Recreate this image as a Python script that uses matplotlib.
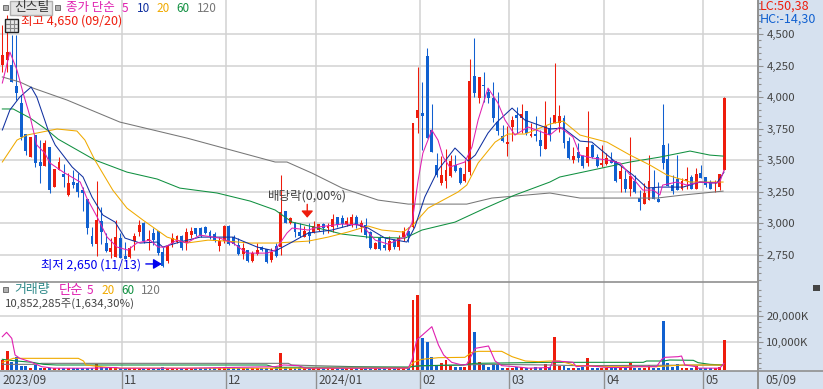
import matplotlib
matplotlib.use("Agg")
import matplotlib.pyplot as plt
from matplotlib.patches import Rectangle
import numpy as np

plt.rcParams['font.family'] = ['Noto Sans CJK KR', 'DejaVu Sans']

W, H = 823, 389

opens = [4254, 4294, 4254, 4087, 3952, 3706, 3523, 3698, 3484, 3452,
         3603, 3285, 3420, 3388, 3222, 3325, 3317, 3261, 3190, 2896,
         2833, 3015, 2841, 2769, 2729, 2880, 2737, 2729, 2856, 2928,
         3000, 2856, 2920, 2936, 2769, 2698, 2841, 2849, 2896, 2841,
         2904, 2960, 2960, 2968, 2928, 2912, 2817, 2856, 2976, 2888,
         2825, 2753, 2785, 2698, 2753, 2809, 2793, 2706, 2820,
         2809, 3095, 3000, 3000, 2928, 2888, 2928, 2928, 2944, 2992,
         2960, 2968, 3048, 3040, 2992, 2992, 3048, 2968, 2984, 2928,
         2793, 2880, 2825, 2785, 2864, 2809, 2888, 2936, 2968, 3833,
         3873, 4325, 3738, 3460, 3317, 3333, 3373, 3460, 3436, 3333,
         3404, 4167, 3992, 4095, 4040, 3992, 3801, 3690, 3626, 3762,
         3857, 3833, 3889, 3690, 3706, 3658, 3587, 3754,
         3793, 3793, 3833, 3650, 3500, 3563, 3531, 3476, 3619, 3523,
         3460, 3468, 3500, 3492, 3349, 3349, 3269, 3333, 3198, 3150,
         3182, 3277, 3190, 3619, 3508, 3301, 3349, 3269, 3333, 3365,
         3269, 3396, 3365, 3317, 3317, 3285, 3420]
highs = [4570, 4650, 4492, 4492, 4016, 3706, 3682, 3698, 3658, 3658,
         3603, 3428, 3523, 3468, 3396, 3420, 3396, 3285, 3190, 2968,
         3333, 3127, 2920, 2880, 3023, 2920, 2849, 2817, 2920, 3023,
         3008, 2944, 2960, 2936, 2809, 2817, 2920, 2904, 2904, 2960,
         2968, 2960, 2968, 2976, 2944, 2928, 2888, 2984, 2984, 2904,
         2880, 2841, 2785, 2777, 2841, 2817, 2793, 2801, 2840,
         3380, 3095, 3048, 3008, 3000, 2976, 3000, 3015, 2992, 3000,
         3000, 3071, 3048, 3063, 3048, 3071, 3063, 3024, 3040, 2936,
         2849, 2896, 2880, 2896, 2872, 2904, 2968, 2968, 3793, 4238,
         4119, 4389, 3944, 3555, 3531, 3587, 3539, 3539, 3444, 3500,
         4302, 4468, 4159, 4198, 4071, 4119, 4040, 3777, 3769, 3849,
         3920, 3944, 3889, 3793, 3849, 3738, 3968, 3841,
         4270, 3936, 3857, 3682, 3603, 3635, 3540, 3889, 3627, 3547,
         3619, 3555, 3563, 3492, 3452, 3420, 3682, 3380, 3261, 3317,
         3539, 3420, 3325, 3944, 3635, 3380, 3539, 3357, 3444, 3380,
         3436, 3460, 3365, 3341, 3341, 3388, 4000]
lows = [4198, 4198, 4119, 3976, 3658, 3539, 3523, 3444, 3317, 3452,
        3238, 3285, 3420, 3285, 3214, 3277, 3206, 3095, 2912, 2817,
        2737, 2833, 2769, 2721, 2729, 2721, 2713, 2721, 2785, 2896,
        2841, 2785, 2825, 2745, 2650, 2682, 2809, 2841, 2785, 2785,
        2880, 2896, 2888, 2912, 2872, 2849, 2777, 2841, 2825, 2825,
        2745, 2713, 2690, 2690, 2745, 2777, 2682, 2690, 2730,
        2745, 3000, 2992, 2888, 2888, 2888, 2841, 2920, 2936, 2912,
        2920, 2928, 2968, 2968, 2976, 2968, 2960, 2928, 2880, 2793,
        2793, 2785, 2785, 2777, 2793, 2785, 2856, 2849, 2960, 3714,
        3579, 3674, 3563, 3364, 3301, 3277, 3364, 3404, 3309, 3325,
        3380, 4000, 3952, 3960, 3952, 3801, 3698, 3642, 3531, 3650,
        3714, 3714, 3698, 3682, 3650, 3531, 3587, 3650,
        3793, 3722, 3595, 3508, 3476, 3484, 3436, 3452, 3515, 3444,
        3444, 3460, 3476, 3325, 3246, 3246, 3214, 3238, 3103, 3150,
        3182, 3190, 3166, 3428, 3293, 3230, 3261, 3261, 3269, 3269,
        3269, 3357, 3285, 3269, 3246, 3261, 3420]
closes = [4333, 4357, 4119, 4032, 3682, 3571, 3682, 3476, 3452, 3635,
          3261, 3428, 3484, 3364, 3317, 3301, 3246, 3238, 2960, 2833,
          3023, 2928, 2777, 2801, 2888, 2721, 2713, 2801, 2896, 2984,
          2856, 2872, 2864, 2761, 2660, 2817, 2880, 2896, 2801, 2928,
          2936, 2912, 2896, 2920, 2888, 2856, 2856, 2976, 2833, 2833,
          2753, 2801, 2698, 2761, 2785, 2785, 2690, 2769, 2740,
          3087, 3000, 3040, 2928, 2896, 2936, 2896, 2976, 2992, 2960,
          2976, 3032, 2984, 2992, 3015, 3048, 2984, 3000, 2904, 2801,
          2841, 2793, 2801, 2856, 2809, 2880, 2936, 2896, 3793, 3896,
          3849, 3674, 3563, 3380, 3380, 3420, 3492, 3412, 3317, 3388,
          4127, 4032, 4159, 4087, 3992, 3833, 3730, 3650, 3642, 3817,
          3833, 3865, 3714, 3706, 3690, 3611, 3770, 3698,
          3857, 3849, 3635, 3515, 3531, 3515, 3452, 3603, 3523, 3452,
          3476, 3515, 3476, 3333, 3412, 3269, 3373, 3246, 3166, 3238,
          3333, 3190, 3166, 3476, 3293, 3253, 3261, 3333, 3349, 3269,
          3388, 3357, 3301, 3269, 3325, 3388, 3990]
volumes = [3200, 6650, 2300, 4470, 1000, 1000, 120, 1270, 250, 100,
           130, 100, 150, 120, 100, 150, 120, 90, 100, 110,
           1650, 400, 300, 250, 500, 300, 150, 200, 100, 120,
           150, 100, 130, 200, 500, 300, 150, 120, 100, 200,
           120, 100, 100, 90, 80, 90, 100, 120, 130, 90,
           120, 100, 150, 100, 90, 90, 120, 100, 300, 5760,
           370, 60, 60, 60, 60, 120, 100, 90, 80, 110,
           100, 90, 70, 90, 80, 60, 100, 130, 90, 80,
           70, 90, 80, 100, 110, 140, 200, 26270, 28190, 11770,
           10250, 4470, 1000, 1900, 3200, 1000, 600, 450, 630, 24720,
           14080, 2540, 1500, 630, 1500, 1500, 120, 120, 120, 370,
           500, 60, 60, 500, 60, 1500, 630,
           12040, 1000, 1000, 120, 120, 120, 630, 3960, 120, 120,
           60, 30, 50, 120, 60, 120, 2150, 250, 250, 30,
           1300, 60, 60, 18200, 2040, 500, 1500, 120, 120, 120,
           1000, 60, 30, 50, 30, 630, 10852]

ma120_x = [0, 3.7, 6.5, 13.7, 24.9, 39.1, 57.8, 60.3, 65.6, 72, 79.6, 86, 98.4,
           103.7, 116, 122.4, 138.7, 144.2, 152.7]
ma120_y = [4159, 4119, 4071, 3976, 3801, 3674, 3484, 3484, 3396, 3277, 3182, 3150,
           3150, 3198, 3238, 3198, 3198, 3222, 3253]
ma60_x = [0, 2.3, 5.9, 9.5, 11.8, 19.6, 26.4, 32.8, 37.6, 45.5, 52.5, 57.8, 61.4,
          66.9, 72, 77.5, 85.3, 88.9, 95.9, 102.3, 108.6, 116, 118.1, 123, 133,
          139.3, 145.7, 149.9, 152.7]
ma60_y = [3905, 3905, 3833, 3738, 3666, 3500, 3404, 3349, 3277, 3238, 3174, 3103,
          3007, 2960, 2912, 2888, 2880, 2944, 3007, 3118, 3222, 3325, 3365, 3404,
          3484, 3523, 3571, 3539, 3531]
ma20_x = [0, 3.1, 5.2, 11.6, 15.8, 17.5, 19.6, 23.4, 26.4, 29.8, 34.9, 39.1, 43.6,
          47.6, 52.5, 57.8, 64.8, 69, 73.2, 77.5, 80.4, 84.9, 87, 90.2, 96.5, 98.4,
          100.8, 104.4, 107.1, 110.7, 116, 118.8, 122.4, 128.1, 133, 137.2, 140.8,
          145.7, 152.7]
ma20_y = [3484, 3658, 3698, 3746, 3730, 3658, 3500, 3261, 3118, 3023, 2888, 2841,
          2864, 2856, 2841, 2841, 2856, 2888, 2928, 2976, 2944, 2928, 2984, 3118,
          3245, 3301, 3476, 3642, 3706, 3706, 3785, 3809, 3698, 3642, 3539, 3460,
          3381, 3325, 3325]
ma10_x = [0, 1.6, 3.7, 6.1, 7.3, 9.7, 11.2, 14.8, 17.1, 19, 21.3, 23.9, 26, 29.2,
          32.8, 34, 37.6, 41.9, 48.9, 54, 57.8, 61.4, 64.8, 69.8, 74.7, 77.5, 81.1,
          85.7, 87.4, 89.5, 92.3, 95.9, 98.7, 100.2, 102.9, 104.8, 108, 110.7, 116,
          118.8, 122.4, 124.9, 129.4, 133.6, 136.6, 139.3, 144.2, 147.8, 151.4, 152.9]
ma10_y = [3738, 3897, 4000, 4079, 4000, 3738, 3619, 3444, 3365, 3206, 3063, 3007,
          2880, 2841, 2849, 2809, 2849, 2888, 2888, 2809, 2777, 2849, 2920, 2944,
          2992, 2960, 2880, 2849, 2968, 3206, 3420, 3595, 3492, 3539, 3714, 3801,
          3912, 3817, 3746, 3754, 3650, 3642, 3500, 3381, 3277, 3285, 3285, 3325,
          3317, 3404]
ma5_x = [0, 1.6, 3.1, 4.4, 5.9, 6.9, 7.3, 9, 10.1, 12.9, 16.5, 17.9, 20.1, 22.2,
         24.3, 26.6, 28.5, 31.3, 33, 34.5, 37, 39.1, 41.9, 46.1, 48.9, 51.8, 56.1,
         57.8, 60.3, 61.4, 64.8, 66.9, 72, 76.2, 79, 81.7, 85.3, 86.8, 88.1, 89.1,
         91, 92.3, 93.4, 94.8, 98, 99.5, 100.8, 102.9, 105, 106.5, 108.6, 111.4, 116,
         118.1, 120.9, 122.4, 125.1, 128.1, 130.9, 133, 135.7, 137.9, 139.3, 139.9,
         142.9, 145, 147.8, 150.5, 152, 152.9]
ma5_y = [4111, 4357, 4214, 4032, 3841, 3682, 3619, 3555, 3476, 3404, 3325, 3198,
         3047, 2888, 2809, 2785, 2841, 2864, 2809, 2809, 2864, 2841, 2904, 2880,
         2841, 2761, 2761, 2785, 2920, 2960, 2944, 2968, 2992, 2984, 2864, 2833,
         2888, 3000, 3341, 3555, 3738, 3658, 3523, 3444, 3484, 3603, 3817, 4071,
         3952, 3817, 3698, 3762, 3698, 3762, 3682, 3539, 3515, 3500, 3476, 3381,
         3261, 3261, 3222, 3301, 3325, 3301, 3325, 3317, 3325, 3420]

vol5_x = [0, 0.9, 2, 2.7, 3.7, 5.9, 8.3, 10.8, 16.5, 19.3, 22.8, 24.2, 24.9, 39,
          57.8, 59.6, 62.7, 64.2, 78.3, 86, 86.8, 87.8, 91, 92.4, 93.5, 95.2, 97.4,
          98.4, 100.2, 103, 104.4, 105.8, 108.6, 111.5, 116, 116.7, 119.5, 120.9,
          121.6, 123.8, 128.4, 132.2, 134.4, 138.6, 139.7, 140.4, 143.2, 143.9,
          144.6, 147, 147.4, 152, 152.9]
vol5_y = [12166, 13833, 11525, 5115, 3833, 2551, 630, 60, 30, 60, 300, 300, 30, 30,
          630, 1270, 1013, 60, 30, 60, 3193, 10884, 16012, 8961, 5115, 2295, 1270,
          1525, 7680, 8576, 2807, 1013, 630, 60, 300, 2807, 2551, 2295, 630, 1013,
          300, 300, 630, 630, 3448, 4218, 4474, 4731, 1270, 630, 60, 60, 1910]
vol20_x = [0, 2.3, 16.1, 17.2, 17.7, 20.7, 24.6, 39, 57.8, 86, 87.1, 88.9, 92.4, 98,
           99.5, 100.9, 105.8, 108, 110.8, 113.6, 116, 118.1, 121.6, 128, 138.6,
           144.2, 152.7]
vol20_y = [2295, 3833, 3833, 2807, 1270, 630, 60, 30, 30, 30, 2295, 3448, 4090, 4218,
           6141, 6525, 6525, 4474, 2807, 2551, 2807, 2807, 1013, 630, 630, 1270, 1270]
vol60_x = [0, 3, 6.4, 8.7, 11.5, 56, 57.8, 86, 88.9, 97.4, 100.2, 116, 135.8, 136.5,
           140, 141.4, 146.4, 147.4, 149.9, 152.7]
vol60_y = [3448, 2807, 2295, 1525, 1270, 1270, 370, 500, 1013, 1270, 1910, 2295, 2295,
           2807, 2807, 3193, 3064, 2167, 1525, 1270]
vol120_x = [0, 6.6, 8.3, 57.8, 60.6, 61.3, 66.3, 74.7, 86, 87.5, 97.4, 103, 116,
            121.6, 152.7]
vol120_y = [1525, 1525, 1910, 1910, 1910, 1270, 1013, 630, 300, 885, 1270, 1525, 1270,
            1013, 1270]

month_ticks = [25.4, 47.45, 66.5, 88.55, 107.4, 127.5, 148.5]
month_labels = ['11', '12', '2024/01', '02', '03', '04', '05']
price_ticks = [2750, 3000, 3250, 3500, 3750, 4000, 4250, 4500]
vol_ticks = [10000, 20000]

RED = '#EE1C0C'
BLUE = '#1060D0'
MAGENTA = '#E020B0'
NAVY = '#1030A0'
ORANGE = '#F0AA00'
GREEN = '#109040'
GRAY = '#777777'
GRID = '#D2D2D2'
PANEL = '#D6E1EF'
EDGE = '#909090'
TEXT = '#444444'
STEP = 4.72
LEFT = -2.33 / STEP


def px_axes(fig, x0, y0, x1, y1):
    return fig.add_axes([x0 / W, 1 - y1 / H, (x1 - x0) / W, (y1 - y0) / H])


def put(fig, x, y, s, color=TEXT, size=8.5, **kw):
    fig.text(x / W, 1 - y / H, s, color=color, fontsize=size, va='center', **kw)


def style_axis(ax, ticks, minor, fmt):
    ax.set_xlim(LEFT, (758 - 2.33) / STEP)
    ax.set_xticks(month_ticks)
    ax.set_xticklabels([])
    ax.tick_params(axis='x', length=0)
    ax.yaxis.tick_right()
    ax.set_yticks(ticks)
    ax.set_yticklabels([fmt(t) for t in ticks], color=TEXT, fontsize=8.2)
    ax.set_yticks(minor, minor=True)
    ax.tick_params(axis='y', which='major', length=3.6, width=0.8, color=EDGE, pad=2.5)
    ax.tick_params(axis='y', which='minor', length=2, width=0.8, color=EDGE)
    ax.grid(True, color=GRID, linewidth=1.1)
    ax.set_axisbelow(True)
    for s in ['left', 'top', 'bottom']:
        ax.spines[s].set_visible(False)
    ax.spines['right'].set_color(EDGE)
    ax.spines['right'].set_linewidth(1.4)


def main():
    fig = plt.figure(figsize=(W / 100, H / 100), dpi=100)
    fig.patches.append(Rectangle((758 / W, 0), 65 / W, 1, transform=fig.transFigure,
                                 facecolor=PANEL, edgecolor='none', zorder=-5))

    idx = np.arange(len(opens))
    o, h, l, c = map(np.array, (opens, highs, lows, closes))
    cols = [RED if a >= b else BLUE for a, b in zip(c, o)]

    # price pane
    ax = px_axes(fig, 0, 0, 758, 281.7)
    ax.set_ylim(4500 - 247.7 * 250 / 31.5, 4500 + 34 * 250 / 31.5)
    style_axis(ax, price_ticks, np.arange(2550, 4751, 50), lambda t: f'{t:,}')
    ax.vlines(idx, l, h, colors=cols, linewidth=0.75, zorder=2)
    body = np.maximum(np.abs(c - o), 8)
    ax.bar(idx, body, bottom=np.minimum(o, c), width=0.62, color=cols, linewidth=0,
           zorder=3, antialiased=False)
    for xs, ys, col, z in [(ma120_x, ma120_y, GRAY, 4), (ma60_x, ma60_y, GREEN, 4),
                           (ma20_x, ma20_y, ORANGE, 4), (ma10_x, ma10_y, NAVY, 5),
                           (ma5_x, ma5_y, MAGENTA, 5)]:
        ax.plot(xs, ys, color=col, linewidth=0.75, zorder=z)

    ax.annotate('', xy=(64.6, 3020), xytext=(64.6, 3170), zorder=6,
                arrowprops=dict(arrowstyle='-|>,head_width=0.35,head_length=0.4',
                                color=RED, lw=1))
    ax.annotate('', xy=(33.8, 2675), xytext=(30.4, 2675), zorder=6,
                arrowprops=dict(arrowstyle='-|>,head_width=0.3,head_length=0.5',
                                color='#0000EE', lw=1, shrinkA=0, shrinkB=0))
    ax.plot([3.2, 3.9], [4650, 4650], color=RED, linewidth=0.8, zorder=6)

    # volume pane
    ax2 = px_axes(fig, 0, 281.7, 758, 371)
    ax2.set_ylim((368.3 - 371) / 2.6 * 1000, (368.3 - 281.7) / 2.6 * 1000)
    style_axis(ax2, vol_ticks, np.arange(0, 30001, 2000), lambda t: f'{t:,}K')
    base = -650
    ax2.bar(idx, np.array(volumes) - base, bottom=base, width=0.62, color=cols,
            linewidth=0, zorder=3, antialiased=False)
    for xs, ys, col, z in [(vol120_x, vol120_y, GRAY, 4), (vol60_x, vol60_y, GREEN, 4),
                           (vol20_x, vol20_y, ORANGE, 4), (vol5_x, vol5_y, MAGENTA, 5)]:
        ax2.plot(xs, ys, color=col, linewidth=0.8, zorder=z)
    ax2.spines['top'].set_visible(True)
    ax2.spines['top'].set_color(EDGE)
    ax2.spines['top'].set_linewidth(1.2)

    # date band
    ax3 = px_axes(fig, 0, 371, 823, 389)
    ax3.set_facecolor(PANEL)
    ax3.set_xlim(LEFT, (823 - 2.33) / STEP)
    ax3.set_ylim(0, 1)
    ax3.set_xticks([])
    ax3.set_yticks([])
    for s in ['left', 'right', 'bottom']:
        ax3.spines[s].set_visible(False)
    ax3.spines['top'].set_color(EDGE)
    ax3.spines['top'].set_linewidth(1.2)
    ax3.vlines(month_ticks, 0, 1, colors=EDGE, linewidth=1)
    ax3.vlines([(758 - 2.33) / STEP], 0, 1, colors=EDGE, linewidth=1.4)
    for t, s in zip(month_ticks, month_labels):
        ax3.text(t + 0.4, 0.45, s, color=TEXT, fontsize=8.5, va='center')
    ax3.text(0, 0.45, '2023/09', color=TEXT, fontsize=8.5, va='center')
    ax3.text(161.6, 0.45, '05/09', color=TEXT, fontsize=8.5, va='center')

    # legends and notes
    fig.patches.append(Rectangle((10 / W, 1 - 15 / H), 42 / W, 14 / H, transform=fig.transFigure,
                                 facecolor='#E4E4E4', edgecolor='#B0B0B0', linewidth=1, zorder=8))
    for x, y in [(3, 5), (55, 5), (3, 287)]:
        fig.patches.append(Rectangle((x / W, 1 - (y + 5) / H), 5 / W, 5 / H, transform=fig.transFigure,
                                     facecolor='#B0B0B0', edgecolor='#707070', linewidth=0.7, zorder=8))
    fig.patches.append(Rectangle((5 / W, 1 - 32 / H), 13 / W, 13 / H, transform=fig.transFigure,
                                 facecolor='#E8E8E8', edgecolor='#222222', linewidth=1, zorder=9))
    for k in [9.5, 13.5]:
        fig.add_artist(plt.Line2D([k / W, k / W], [1 - 31 / H, 1 - 20 / H], color='#888888', linewidth=0.8, zorder=10))
    for k in [23.5, 27.5]:
        fig.add_artist(plt.Line2D([6 / W, 17 / W], [1 - k / H, 1 - k / H], color='#888888', linewidth=0.8, zorder=10))
    fig.patches.append(Rectangle((813 / W, 1 - 291 / H), 7 / W, 6 / H, transform=fig.transFigure,
                                 facecolor='#444444', edgecolor='none', zorder=8))

    put(fig, 14, 8, '신스틸', color='#333333', size=9.2, zorder=9)
    put(fig, 66, 7.5, '종가 단순', color=MAGENTA, size=9)
    put(fig, 122, 8, '5', color=MAGENTA)
    put(fig, 137, 8, '10', color=NAVY)
    put(fig, 156, 8, '20', color=ORANGE)
    put(fig, 176, 8, '60', color=GREEN)
    put(fig, 197, 8, '120', color=GRAY)
    put(fig, 21, 21.5, '최고 4,650 (09/20)', color=RED, size=9)
    put(fig, 41, 265, '최저 2,650 (11/13)', color='#0000EE', size=8.9)
    put(fig, 268, 196, '배당락(0,00%)', size=9)
    put(fig, 760, 6, 'LC:50,38', color=RED, size=9)
    put(fig, 760, 19, 'HC:-14,30', color=BLUE, size=9)
    put(fig, 14, 290, '거래량', color='#308A8A', size=9.3)
    put(fig, 59, 290, '단순', color=MAGENTA, size=9.6)
    put(fig, 87, 290, '5', color=MAGENTA)
    put(fig, 101, 290, '20', color=ORANGE)
    put(fig, 121, 290, '60', color=GREEN)
    put(fig, 141, 290, '120', color=GRAY)
    put(fig, 5, 304, '10,852,285주(1,634,30%)', size=8.2)

    fig.savefig('out.png', dpi=100)


if __name__ == "__main__":
    main()
